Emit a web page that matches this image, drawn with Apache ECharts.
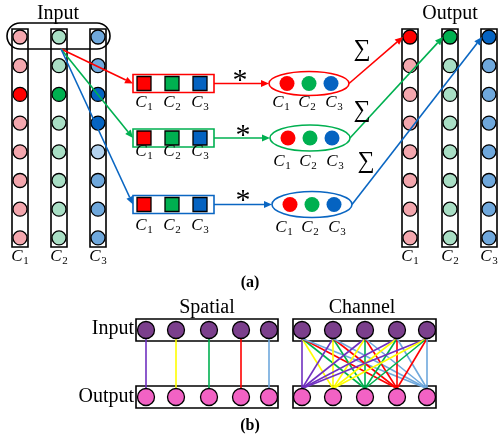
<!DOCTYPE html>
<html>
<head>
<meta charset="utf-8">
<script src="https://cdn.jsdelivr.net/npm/echarts@6/dist/echarts.min.js"></script>
<style>
html, body { margin: 0; padding: 0; background: #fff; }
#diagram { width: 499px; height: 438px; }
</style>
</head>
<body>
<div id="diagram"></div>
<script>
// ---- data ----
const channelIds = ['1', '2', '3']
const inputCol1 = ['#f4a7ae', '#f4a7ae', '#ff0000', '#f4a7ae', '#f4a7ae', '#f4a7ae', '#f4a7ae', '#f4a7ae']
const inputCol2 = ['#a9dfc5', '#a9dfc5', '#00b050', '#a9dfc5', '#a9dfc5', '#a9dfc5', '#a9dfc5', '#a9dfc5']
const inputCol3 = ['#6fa8dc', '#6fa8dc', '#0563c1', '#0563c1', '#b4d3ef', '#6fa8dc', '#6fa8dc', '#6fa8dc']
const outputCol1 = ['#ff0000', '#f4a7ae', '#f4a7ae', '#f4a7ae', '#f4a7ae', '#f4a7ae', '#f4a7ae', '#f4a7ae']
const outputCol2 = ['#00b050', '#a9dfc5', '#a9dfc5', '#a9dfc5', '#a9dfc5', '#a9dfc5', '#a9dfc5', '#a9dfc5']
const outputCol3 = ['#0563c1', '#6fa8dc', '#6fa8dc', '#6fa8dc', '#6fa8dc', '#6fa8dc', '#6fa8dc', '#6fa8dc']
const kernelColors = ['#ff0000', '#00b050', '#0563c1']
const branchColors = ['#ff0000', '#00b050', '#0a66c2']
const nodesB = 5
const bInputColor = '#7b3f8c'
const bOutputColor = '#f262c4'
const linkColors = ['#7030c0', '#ffff00', '#00b050', '#ff0000', '#6fa8dc']

// ---- layout (pixel-like units of the hidden axes) ----
const L = {
  inX: [20, 59, 98],
  outX: [410, 450, 489],
  rowY0: 37, rowStep: 28.7, colTop: 29, colBottom: 247, colW: 16, nodeR: 7,
  fork: [61, 49],
  branchY: [83.5, 138, 204.5],
  kernelX: [133, 214], kernelH: 18, kernelCells: [144, 172, 200], cellSize: 14,
  kLabelY: [103, 152, 226],
  ellX: [309, 310, 312], ellRx: 40, ellRy: [12, 13, 13], ellCells: [-22, 0, 22], ellR: 7.5,
  ellLabels: [-28, -2, 25],
  eLabelY: [103, 162, 228],
  star: [[240, 81], [243, 136], [243, 201]],
  sigma: [[362, 50], [362, 111], [366, 162]],
  colLabelY: 257,
  spX: [146, 176, 209, 241, 269], spRect: [136, 278],
  chX: [302, 333, 365, 397, 427], chRect: [293, 436],
  bTopY: 330, bBotY: 397, bRectH: 22, bR: 8.5
}

const serif = '"Liberation Serif", "Times New Roman", serif'

let diagram = echarts.init(document.getElementById('diagram'))

function renderAll (params, api) {
  const p = (x, y) => api.coord([x, y])
  const kids = []

  const rect = (x1, y1, x2, y2, stroke, lw, r) => {
    const a = p(x1, y1), b = p(x2, y2)
    kids.push({ type: 'rect', shape: { x: a[0], y: a[1], width: b[0] - a[0], height: b[1] - a[1], r: r || 0 },
      style: { fill: 'rgba(0,0,0,0)', stroke: stroke, lineWidth: lw } })
  }
  const fillRect = (cx, cy, s, fill) => {
    const a = p(cx - s / 2, cy - s / 2)
    kids.push({ type: 'rect', shape: { x: a[0], y: a[1], width: s, height: s },
      style: { fill: fill, stroke: '#000', lineWidth: 1.3 } })
  }
  const dot = (x, y, r, fill, stroke) => {
    const c = p(x, y)
    kids.push({ type: 'circle', shape: { cx: c[0], cy: c[1], r: r },
      style: { fill: fill, stroke: stroke || null, lineWidth: 1.3 } })
  }
  const line = (x1, y1, x2, y2, color, lw) => {
    const a = p(x1, y1), b = p(x2, y2)
    kids.push({ type: 'line', shape: { x1: a[0], y1: a[1], x2: b[0], y2: b[1] },
      style: { stroke: color, lineWidth: lw || 1.5 } })
  }
  const arrow = (x1, y1, x2, y2, color) => {
    const a = p(x1, y1), b = p(x2, y2)
    const dx = b[0] - a[0], dy = b[1] - a[1]
    const len = Math.sqrt(dx * dx + dy * dy)
    const ux = dx / len, uy = dy / len
    const hl = 8, hw = 3.5
    const bx = b[0] - ux * hl, by = b[1] - uy * hl
    kids.push({ type: 'line', shape: { x1: a[0], y1: a[1], x2: bx, y2: by },
      style: { stroke: color, lineWidth: 1.6 } })
    kids.push({ type: 'polygon', shape: { points: [[b[0], b[1]], [bx - uy * hw, by + ux * hw], [bx + uy * hw, by - ux * hw]] },
      style: { fill: color } })
  }
  const text = (x, y, str, size, opts) => {
    const c = p(x, y)
    kids.push({ type: 'text', style: Object.assign({
      x: c[0], y: c[1], text: str, fill: '#000', fontSize: size, fontFamily: serif,
      align: 'center', verticalAlign: 'middle' }, opts || {}) })
  }
  const cLabel = (x, y, i) => {
    text(x - 3, y, 'C', 17, { fontStyle: 'italic' })
    text(x + 6, y + 4, channelIds[i], 11)
  }

  // ---- (a) feature map columns ----
  const inputCols = [inputCol1, inputCol2, inputCol3]
  const outputCols = [outputCol1, outputCol2, outputCol3]
  const drawColumns = (xs, cols) => {
    xs.forEach((x, c) => {
      rect(x - L.colW / 2, L.colTop, x + L.colW / 2, L.colBottom, '#000', 1.6)
      cols[c].forEach((color, r) => dot(x, L.rowY0 + r * L.rowStep, L.nodeR, color, '#000'))
      cLabel(x, L.colLabelY, c)
    })
  }
  drawColumns(L.inX, inputCols)
  drawColumns(L.outX, outputCols)
  rect(7, 23, 110, 49, '#000', 1.6, 13)
  text(58, 14, 'Input', 20)
  text(450, 14, 'Output', 20)

  // ---- (a) branches ----
  branchColors.forEach((color, k) => {
    const y = L.branchY[k]
    arrow(L.fork[0], L.fork[1], L.kernelX[0], y, color)
    rect(L.kernelX[0], y - L.kernelH / 2, L.kernelX[1], y + L.kernelH / 2, color, 1.6)
    L.kernelCells.forEach((cx, i) => {
      fillRect(cx, y, L.cellSize, kernelColors[i])
      cLabel(cx, L.kLabelY[k], i)
    })
    const ex = L.ellX[k]
    arrow(L.kernelX[1], y, ex - L.ellRx, y, color)
    text(L.star[k][0], L.star[k][1], '*', 30)
    const ec = p(ex, y)
    kids.push({ type: 'ellipse', shape: { cx: ec[0], cy: ec[1], rx: L.ellRx, ry: L.ellRy[k] },
      style: { fill: 'rgba(0,0,0,0)', stroke: color, lineWidth: 1.6 } })
    L.ellCells.forEach((off, i) => {
      dot(ex + off, y, L.ellR, kernelColors[i])
      cLabel(ex + L.ellLabels[i], L.eLabelY[k], i)
    })
    arrow(ex + L.ellRx, y, L.outX[k] - L.nodeR, L.rowY0, color)
    text(L.sigma[k][0], L.sigma[k][1], '∑', 24)
  })
  text(250, 283, '(a)', 16, { fontWeight: 'bold' })

  // ---- (b) spatial / channel ----
  const bBlock = (xs, xr) => {
    rect(xr[0], L.bTopY - L.bRectH / 2, xr[1], L.bTopY + L.bRectH / 2, '#000', 1.6)
    rect(xr[0], L.bBotY - L.bRectH / 2, xr[1], L.bBotY + L.bRectH / 2, '#000', 1.6)
  }
  bBlock(L.spX, L.spRect)
  bBlock(L.chX, L.chRect)
  L.spX.forEach((x, i) => line(x, L.bTopY + L.bR, x, L.bBotY - L.bR, linkColors[i], 1.6))
  L.chX.forEach((xt) => {
    L.chX.forEach((xb, j) => line(xt, L.bTopY + L.bR, xb, L.bBotY - L.bR, linkColors[j], 1.6))
  })
  for (let i = 0; i < nodesB; i++) {
    dot(L.spX[i], L.bTopY, L.bR, bInputColor, '#000')
    dot(L.spX[i], L.bBotY, L.bR, bOutputColor, '#000')
    dot(L.chX[i], L.bTopY, L.bR, bInputColor, '#000')
    dot(L.chX[i], L.bBotY, L.bR, bOutputColor, '#000')
  }
  text(207, 308, 'Spatial', 20)
  text(362, 308, 'Channel', 20)
  text(134, 329, 'Input', 20, { align: 'right' })
  text(134, 397, 'Output', 20, { align: 'right' })
  text(250, 426, '(b)', 16, { fontWeight: 'bold' })

  return { type: 'group', children: kids }
}

let option = {
  animation: false,
  grid: { left: 0, right: 0, top: 0, bottom: 0 },
  xAxis: { type: 'value', min: 0, max: 499, show: false },
  yAxis: { type: 'value', min: 0, max: 438, inverse: true, show: false },
  series: [
    {
      type: 'custom',
      silent: true,
      clip: false,
      data: [[0, 0]],
      renderItem: renderAll
    }
  ]
}

diagram.setOption(option)
</script>
</body>
</html>
